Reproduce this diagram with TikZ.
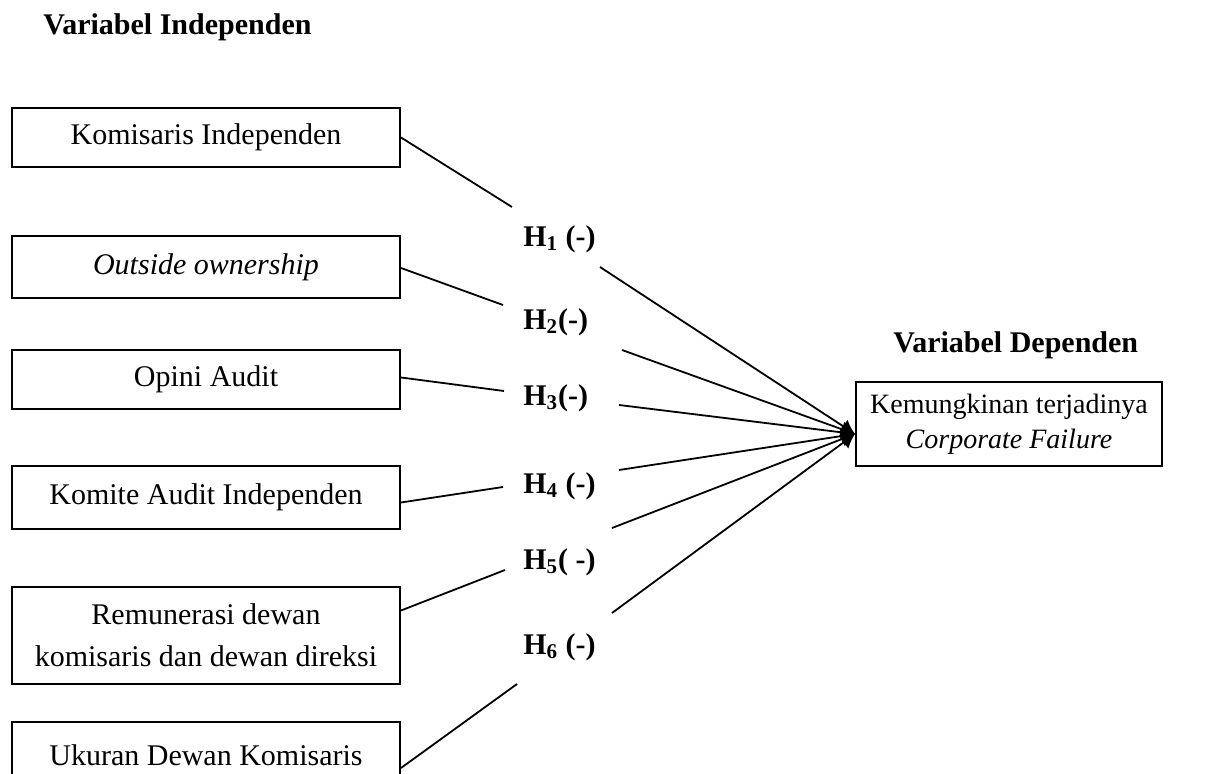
\documentclass[tikz,border=0pt]{standalone}
\usepackage{fontspec}
\setmainfont{Liberation Serif}
\usetikzlibrary{arrows.meta}
\begin{document}
\begin{tikzpicture}[x=0.5pt,y=-0.5pt,
  varbox/.style={draw,line width=1pt,minimum width=194pt,align=center,inner sep=0pt,
    font=\fontsize{15}{21}\selectfont},
  hyp/.style={anchor=west,inner sep=0pt,font=\fontsize{15}{18}\selectfont\bfseries},
  head/.style={anchor=west,inner sep=0pt,font=\fontsize{15}{18}\selectfont\bfseries},
  link/.style={line width=0.9pt},
  arr/.style={line width=0.9pt,-{Latex[length=7pt,width=8pt]}}]
\useasboundingbox (0,0) rectangle (1222,774);
\clip (0,0) rectangle (1222,774);
\node[head] (hi) at (43,27) {Variabel Independen};
\node[head] (hd) at (893,345) {Variabel Dependen};
% independent boxes
\node[varbox,minimum height=29.5pt] (b1) at (206,137.5) {Komisaris Independen};
\node[varbox,minimum height=31pt] (b2) at (206,267) {\itshape Outside ownership};
\node[varbox,minimum height=29.5pt] (b3) at (206,379.5) {Opini Audit};
\node[varbox,minimum height=31.5pt] (b4) at (206,497.5) {Komite Audit Independen};
\node[varbox,minimum height=48.5pt] (b5) at (206,635.5) {Remunerasi dewan\\komisaris dan dewan direksi};
\node[varbox,minimum height=33pt] (b6) at (206,755) {Ukuran Dewan Komisaris};
% dependent box
\node[varbox,minimum width=153pt,minimum height=42pt,font=\fontsize{14}{17.5}\selectfont] (dv) at (1009,424)
  {Kemungkinan terjadinya\\\itshape Corporate Failure};
% hypothesis labels
\node[hyp] (h1) at (523,239) {H\textsubscript{1} (-)};
\node[hyp] (h2) at (523,322) {H\textsubscript{2}(-)};
\node[hyp] (h3) at (523,398) {H\textsubscript{3}(-)};
\node[hyp] (h4) at (523,486) {H\textsubscript{4} (-)};
\node[hyp] (h5) at (523,562) {H\textsubscript{5}( -)};
\node[hyp] (h6) at (523,647) {H\textsubscript{6} (-)};
% line ends near labels
\coordinate (i1) at (512,207);
\coordinate (i2) at (503,305);
\coordinate (i3) at (504,391);
\coordinate (i4) at (503,487);
\coordinate (i5) at (505,570);
\coordinate (i6) at (517,684);
\coordinate (o1) at (600,267);
\coordinate (o2) at (622,350);
\coordinate (o3) at (619,405);
\coordinate (o4) at (619,470);
\coordinate (o5) at (612,528);
\coordinate (o6) at (612,613);
\coordinate (t) at ([yshift=-5pt]dv.west);
% connectors
\draw[link] (b1.east) -- (i1);
\draw[link] ([yshift=-0.5pt]b2.east) -- (i2);
\draw[link] ([yshift=1pt]b3.east) -- (i3);
\draw[link] ([yshift=-2.5pt]b4.east) -- (i4);
\draw[link] ([yshift=12.5pt]b5.east) -- (i5);
\draw[link] ([yshift=-6.5pt]b6.east) -- (i6);
\foreach \k in {1,...,6} \draw[arr] (o\k) -- (t);
\end{tikzpicture}
\end{document}
